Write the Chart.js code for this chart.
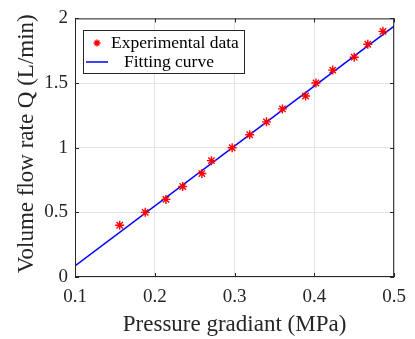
<!DOCTYPE html>
<html>
<head>
<meta charset="utf-8">
<script src="https://cdn.jsdelivr.net/npm/chart.js@4/dist/chart.umd.min.js"></script>
<style>
  html, body { margin: 0; padding: 0; background: #fff; }
  #wrap { width: 415px; height: 339px; position: relative; }
</style>
</head>
<body>
<div id="wrap"><canvas id="c"></canvas></div>
<script>
var pressure = [0.156, 0.188, 0.214, 0.235, 0.259, 0.271, 0.297, 0.319, 0.340, 0.360, 0.389, 0.402, 0.423, 0.450, 0.467, 0.486];
var flow = [0.4, 0.5, 0.6, 0.7, 0.8, 0.9, 1.0, 1.1, 1.2, 1.3, 1.4, 1.5, 1.6, 1.7, 1.8, 1.9];
// linear fit, end points
var fitX = [0.1, 0.5];
var fitY = [0.086, 1.94];
var xTicks = [0.1, 0.2, 0.3, 0.4, 0.5];
var yTicks = [0, 0.5, 1, 1.5, 2];
var xTitle = "Pressure gradiant (MPa)";
var yTitle = "Volume flow rate Q (L/min)";
var legendLabels = ["Experimental data", "Fitting curve"];

var SERIF = "'Liberation Serif', 'Times New Roman', serif";
var INK = "#262626";

function pts(xs, ys) {
  return xs.map(function (x, i) { return { x: x, y: ys[i] }; });
}

function setTicks(list) {
  return function (scale) {
    scale.ticks = list.map(function (v) { return { value: v }; });
  };
}

// box, inward ticks, legend, titles (matlab look)
var frame = {
  id: "frame",
  afterDraw: function (chart) {
    var ctx = chart.ctx;
    var a = chart.chartArea;
    var xs = chart.scales.x, ys = chart.scales.y;
    ctx.save();
    ctx.strokeStyle = INK;
    ctx.lineWidth = 1;
    ctx.strokeRect(a.left + 0.5, a.top + 0.5, a.right - a.left - 1, a.bottom - a.top - 1);
    ctx.beginPath();
    xTicks.forEach(function (v) {
      var px = Math.round(xs.getPixelForValue(v)) + 0.5;
      ctx.moveTo(px, a.bottom); ctx.lineTo(px, a.bottom - 4);
      ctx.moveTo(px, a.top); ctx.lineTo(px, a.top + 4);
    });
    yTicks.forEach(function (v) {
      var py = Math.round(ys.getPixelForValue(v)) + 0.5;
      ctx.moveTo(a.left, py); ctx.lineTo(a.left + 4, py);
      ctx.moveTo(a.right, py); ctx.lineTo(a.right - 4, py);
    });
    ctx.stroke();

    // legend
    var lx = 83, ly = 30, lw = 161, lh = 43;
    ctx.fillStyle = "#fff";
    ctx.fillRect(lx, ly, lw, lh);
    ctx.strokeStyle = INK;
    ctx.strokeRect(lx + 0.5, ly + 0.5, lw, lh);
    ctx.fillStyle = "#000";
    ctx.font = "17.5px " + SERIF;
    ctx.textBaseline = "middle";
    ctx.textAlign = "left";
    ctx.fillText(legendLabels[0], 111, 43);
    ctx.fillText(legendLabels[1], 124, 62);
    // asterisk sample
    var r = 3.5;
    ctx.strokeStyle = chart.data.datasets[0].borderColor;
    ctx.lineWidth = 1.4;
    ctx.beginPath();
    ctx.moveTo(97 - r, 43); ctx.lineTo(97 + r, 43);
    ctx.moveTo(97, 43 - r); ctx.lineTo(97, 43 + r);
    ctx.moveTo(97 - r * 0.7, 43 - r * 0.7); ctx.lineTo(97 + r * 0.7, 43 + r * 0.7);
    ctx.moveTo(97 - r * 0.7, 43 + r * 0.7); ctx.lineTo(97 + r * 0.7, 43 - r * 0.7);
    ctx.stroke();
    // line sample
    ctx.strokeStyle = chart.data.datasets[1].borderColor;
    ctx.lineWidth = 1.5;
    ctx.beginPath();
    ctx.moveTo(86, 62); ctx.lineTo(108, 62);
    ctx.stroke();

    // axis titles
    ctx.fillStyle = INK;
    ctx.font = "23px " + SERIF;
    ctx.textAlign = "center";
    ctx.textBaseline = "alphabetic";
    ctx.fillText(xTitle, (a.left + a.right) / 2, 331);
    ctx.translate(33, (a.top + a.bottom) / 2 - 4);
    ctx.rotate(-Math.PI / 2);
    ctx.fillText(yTitle, 0, 0);
    ctx.restore();
  }
};

new Chart(document.getElementById("c"), {
  type: "scatter",
  data: {
    datasets: [
      {
        label: legendLabels[0],
        data: pts(pressure, flow),
        pointStyle: "star",
        pointRadius: 4.5,
        pointHoverRadius: 4.5,
        borderColor: "#ff0000",
        backgroundColor: "#ff0000",
        pointBorderWidth: 1.4,
        order: 1
      },
      {
        type: "line",
        label: legendLabels[1],
        data: pts(fitX, fitY),
        borderColor: "#0000ff",
        borderWidth: 1.5,
        pointRadius: 0,
        fill: false,
        order: 2
      }
    ]
  },
  options: {
    responsive: true,
    maintainAspectRatio: false,
    animation: false,
    layout: { padding: { top: 14, right: 16, left: 0, bottom: 0 } },
    plugins: { legend: { display: false }, tooltip: { enabled: false } },
    scales: {
      x: {
        type: "linear",
        min: 0.1,
        max: 0.5,
        afterBuildTicks: setTicks(xTicks),
        afterFit: function (s) { s.height = 62; },
        grid: { color: "#e3e3e3", drawTicks: false },
        border: { display: false },
        ticks: {
          padding: 9,
          color: INK,
          font: { family: SERIF, size: 19 },
          callback: function (v) { return String(v); }
        }
      },
      y: {
        type: "linear",
        min: 0,
        max: 2,
        afterBuildTicks: setTicks(yTicks),
        afterFit: function (s) { s.width = 75; },
        grid: { color: "#e3e3e3", drawTicks: false },
        border: { display: false },
        ticks: {
          padding: 7,
          color: INK,
          font: { family: SERIF, size: 19 },
          callback: function (v) { return String(v); }
        }
      }
    }
  },
  plugins: [frame]
});
</script>
</body>
</html>
